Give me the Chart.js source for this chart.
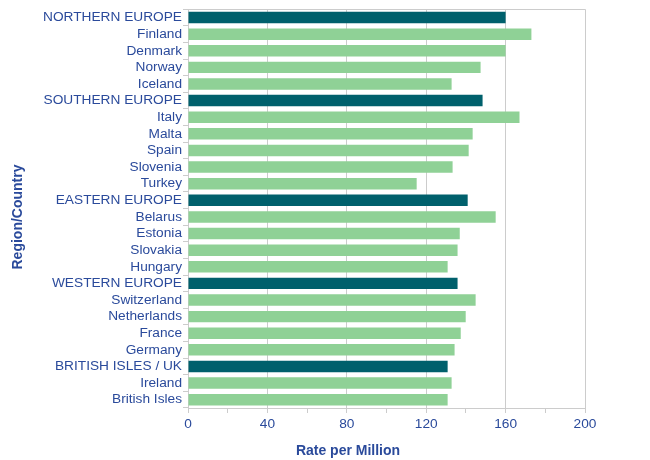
<!DOCTYPE html>
<html>
<head>
<meta charset="utf-8">
<script src="https://cdn.jsdelivr.net/npm/chart.js@4"></script>
<style>
html,body{margin:0;padding:0;background:#fff;}
#wrap{width:650px;height:460px;position:relative;}
</style>
</head>
<body>
<div id="wrap"><canvas id="c"></canvas></div>
<script>
const categories = ["NORTHERN EUROPE","Finland","Denmark","Norway","Iceland",
  "SOUTHERN EUROPE","Italy","Malta","Spain","Slovenia","Turkey",
  "EASTERN EUROPE","Belarus","Estonia","Slovakia","Hungary",
  "WESTERN EUROPE","Switzerland","Netherlands","France","Germany",
  "BRITISH ISLES / UK","Ireland","British Isles"];
const rates = [160,173,160,147.4,132.8,
  148.4,167,143.4,141.4,133.3,115.2,
  140.9,155,136.9,135.8,130.8,
  135.8,144.9,139.9,137.4,134.3,
  130.8,132.8,130.8];
const isRegion = [true,false,false,false,false,
  true,false,false,false,false,false,
  true,false,false,false,false,
  true,false,false,false,false,
  true,false,false];
const xTickValues = [0,40,80,120,160,200];
const xTitle = "Rate per Million";
const yTitle = "Region/Country";

const FONT = "'Liberation Sans', Arial, Helvetica, sans-serif";
const TEXT = "#2a4a9b";
const GRID = "#cccccc";
const DARK = "#00606c";
const LIGHT = "#8fd196";

const titlesPlugin = {
  id: 'titles',
  afterDraw(chart) {
    const ctx = chart.ctx;
    const a = chart.chartArea;
    ctx.save();
    // top border
    ctx.strokeStyle = GRID; ctx.lineWidth = 1;
    ctx.beginPath();
    ctx.moveTo(a.left, Math.round(a.top) + 0.5);
    ctx.lineTo(a.right, Math.round(a.top) + 0.5);
    ctx.stroke();
    ctx.fillStyle = TEXT;
    ctx.font = "bold 14px " + FONT;
    ctx.textAlign = 'center';
    ctx.textBaseline = 'middle';
    ctx.fillText(xTitle, 348, 451);
    ctx.translate(18, 217);
    ctx.rotate(-Math.PI / 2);
    ctx.fillText(yTitle, 0, 0);
    ctx.restore();
  }
};

new Chart(document.getElementById('c'), {
  type: 'bar',
  data: {
    labels: categories,
    datasets: [{
      data: rates,
      backgroundColor: isRegion.map(r => r ? DARK : LIGHT),
      borderWidth: 0,
      categoryPercentage: 1,
      barPercentage: 0.69
    }]
  },
  options: {
    indexAxis: 'y',
    responsive: true,
    maintainAspectRatio: false,
    animation: false,
    layout: { padding: { left: 0, right: 65, top: 8, bottom: 0 } },
    plugins: { legend: { display: false }, tooltip: { enabled: false }, title: { display: false } },
    scales: {
      x: {
        min: 0, max: 200,
        afterBuildTicks(scale) {
          const t = [];
          for (let v = 0; v <= 200; v += 20) t.push({ value: v });
          scale.ticks = t;
        },
        afterFit(scale) { scale.height = 52; },
        ticks: {
          autoSkip: false,
          maxRotation: 0,
          color: TEXT,
          font: { family: FONT, size: 13.7 },
          padding: 3,
          callback: v => xTickValues.includes(v) ? String(v) : ''
        },
        grid: {
          color: ctx => (ctx.tick && xTickValues.includes(ctx.tick.value) && ctx.tick.value !== 0) ? GRID : 'rgba(0,0,0,0)',
          tickColor: GRID,
          tickLength: 5,
          lineWidth: 1
        },
        border: { color: GRID, width: 1 }
      },
      y: {
        afterFit(scale) { scale.width = 188; },
        ticks: {
          autoSkip: false,
          color: TEXT,
          font: { family: FONT, size: 13.7 },
          padding: 1
        },
        grid: {
          drawOnChartArea: false,
          drawTicks: true,
          tickLength: 5,
          color: GRID,
          offset: true
        },
        border: { color: GRID, width: 1 }
      }
    }
  },
  plugins: [titlesPlugin]
});
</script>
</body>
</html>
